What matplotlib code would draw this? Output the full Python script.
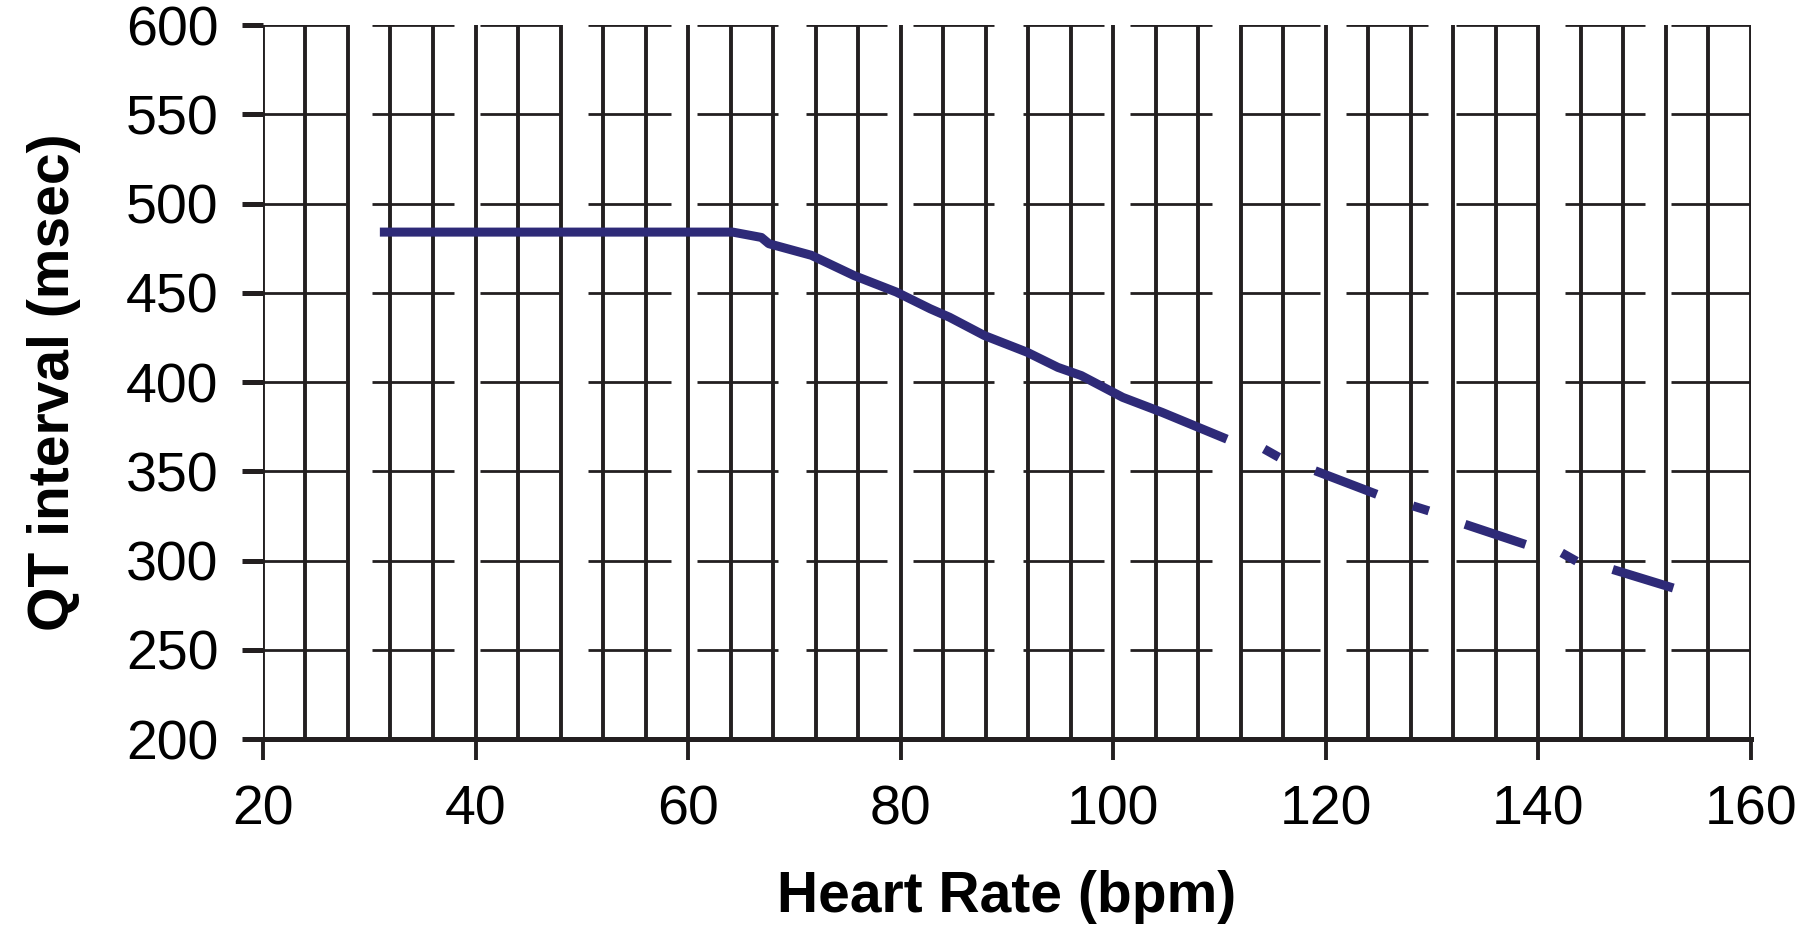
import numpy as np
import matplotlib
matplotlib.use("Agg")
import matplotlib.pyplot as plt

plt.rcParams['font.family'] = ['Liberation Sans', 'DejaVu Sans']

# QT interval vs heart rate, NaN = gap in the trace
hr_bpm = [31, 64.2, 66.9, 67.6, 71.6, 75.6, 79.6, 82.8, 84.6, 87.9, 91.9, 94.8, 97,
          100.9, 104.6, 110.7,
          np.nan, 114.2, 115.6,
          np.nan, 119.0, 124.8,
          np.nan, 128.2, 129.7,
          np.nan, 133.1, 138.8,
          np.nan, 142.2, 143.6,
          np.nan, 147.0, 152.7]
qt_msec = [484, 484, 481, 477.5, 471, 459.7, 450.4, 441, 436.3, 426, 416.7, 408.2, 403.6,
           391.4, 383, 368,
           np.nan, 362.5, 357.8,
           np.nan, 350.3, 337.1,
           np.nan, 330.6, 327.8,
           np.nan, 320.3, 309,
           np.nan, 304.3, 299.6,
           np.nan, 295, 284.6]

x_ticks = [20, 40, 60, 80, 100, 120, 140, 160]
y_ticks = [200, 250, 300, 350, 400, 450, 500, 550, 600]

# gaps in the horizontal grid lines (as printed in the original)
grid_gaps = [(27.8, 30.3), (38.0, 40.4), (47.9, 50.6), (58.4, 60.8), (68.5, 71.1),
             (78.7, 81.2), (88.8, 91.5), (99.1, 101.6), (109.3, 111.9), (119.5, 121.9),
             (129.6, 132.3), (140.1, 142.5), (150.0, 152.5)]

ink = '#231f20'
navy = '#2e2a78'

fig = plt.figure(figsize=(18.11, 9.31), dpi=100)
ax = fig.add_axes([0.1452, 0.2062, 0.8216, 0.7669])
ax.set_xlim(20, 160)
ax.set_ylim(200, 600)

# vertical grid every 4 bpm
for xv in np.arange(20, 161, 4):
    ax.axvline(xv, color=ink, lw=2.8, zorder=1)

# broken horizontal grid
seg_starts = [20] + [g[1] for g in grid_gaps]
seg_ends = [g[0] for g in grid_gaps] + [160]
for yv in y_ticks[1:]:
    ax.hlines([yv] * len(seg_starts), seg_starts, seg_ends, color=ink, lw=2.0, zorder=1)

ax.plot(hr_bpm, qt_msec, color=navy, lw=6.5, solid_capstyle='butt',
        solid_joinstyle='round', zorder=3)

for s in ['top', 'right', 'left']:
    ax.spines[s].set_visible(False)
ax.spines['bottom'].set_linewidth(3.6)
ax.spines['bottom'].set_color(ink)
ax.spines['bottom'].set_zorder(2)

ax.set_xticks(x_ticks)
ax.set_yticks(y_ticks)
ax.tick_params(axis='x', length=15, width=2.8, color=ink, pad=18, labelsize=40)
ax.tick_params(axis='y', length=15, width=3.6, color=ink, pad=17, labelsize=40)

ax.set_xlabel('Heart Rate (bpm)', fontsize=41, fontweight='bold', labelpad=24)
ax.set_ylabel('QT interval (msec)', fontsize=41, fontweight='bold', labelpad=32)

fig.savefig('out.png', dpi=100)
